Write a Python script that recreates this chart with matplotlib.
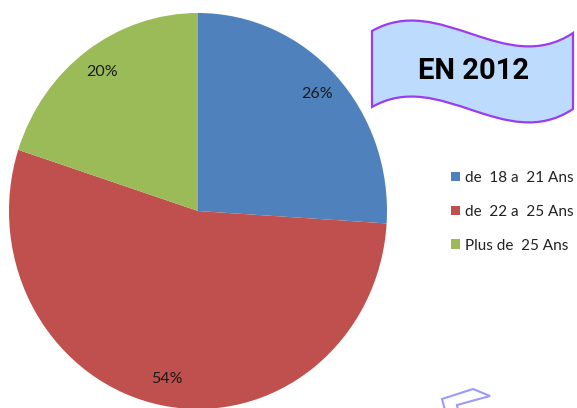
import matplotlib
matplotlib.use('Agg')
import matplotlib.pyplot as plt
from matplotlib.path import Path
from matplotlib.patches import PathPatch

# Data
labels = ['de  18 a  21 Ans', 'de  22 a  25 Ans', 'Plus de  25 Ans']
values = [26, 54, 20]
colors = ['#4f81bd', '#c0504d', '#9bbb59']
title = 'EN 2012'

W, H = 577, 408
fig = plt.figure(figsize=(W / 100, H / 100), dpi=100)
fig.patch.set_facecolor('white')

# pie axes: center at pixel (198, 211), radii 189 px (x) and 198 px (y)
ax = fig.add_axes([0, 0, 1, 1])
cx, cy, rx, ry = 198, 211, 189, 198
wedges, texts, autotexts = ax.pie(values, colors=colors, startangle=90,
                                  counterclock=False, autopct='%d%%',
                                  pctdistance=0.865,
                                  textprops={'fontsize': 11.5,
                                             'family': 'Lato',
                                             'color': '#1a1a1a'})
ax.set_aspect('auto')
ax.set_xlim(-cx / rx, (W - cx) / rx)
ax.set_ylim(-(H - cy) / ry, cy / ry)
ax.axis('off')

leg = ax.legend(wedges, labels, loc='upper left',
                bbox_to_anchor=(451 / W, 1 - 171 / H),
                frameon=False, borderpad=0, borderaxespad=0,
                handlelength=0.6, handleheight=0.6, handletextpad=0.3,
                labelspacing=1.3,
                prop={'family': 'Lato', 'size': 11})
for t in leg.get_texts():
    t.set_color('#222222')

# overlay in pixel units for the banner decoration
ov = fig.add_axes([0, 0, 1, 1])
ov.set_xlim(0, W)
ov.set_ylim(H, 0)
ov.axis('off')

x0, x1 = 372, 573
top = [(x0, 31), (440, -8), (505, 78), (x1, 33)]
bot = [(x1, 109), (505, 154), (440, 68), (x0, 107)]
verts = top + [(x1, 109)] + bot[1:] + [(x0, 31), (x0, 31)]
codes = ([Path.MOVETO] + [Path.CURVE4] * 3 + [Path.LINETO]
         + [Path.CURVE4] * 3 + [Path.LINETO, Path.CLOSEPOLY])
banner = PathPatch(Path(verts, codes), facecolor='#bddcfd',
                   edgecolor='#9b3cf0', lw=1.6)
ov.add_patch(banner)
ov.text(474, 71, title, ha='center', va='center', fontsize=21,
        fontweight='bold', family='Roboto', color='black')

# partial shape at bottom right
ov.plot([445, 442, 473, 490, 457, 458], [410, 399, 389, 396, 405, 410],
        color='#9a9aff', lw=1.5, solid_joinstyle='miter')

fig.savefig('out.png', dpi=100)
